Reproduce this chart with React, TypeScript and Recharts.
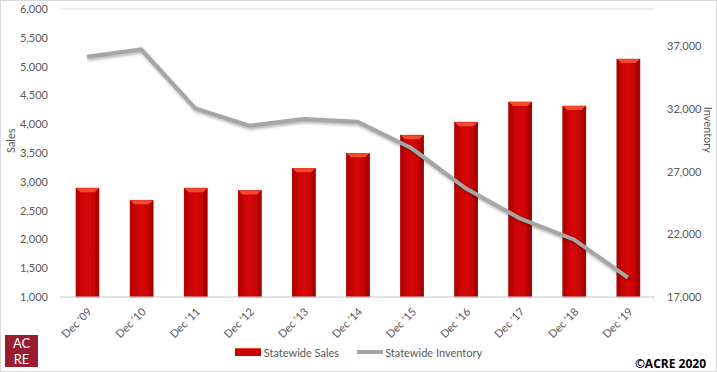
import React from "react";
import { ComposedChart, Bar, Line, XAxis, YAxis, CartesianGrid, Legend } from "recharts";

const categories = ["Dec '09", "Dec '10", "Dec '11", "Dec '12", "Dec '13", "Dec '14", "Dec '15", "Dec '16", "Dec '17", "Dec '18", "Dec '19"];
const sales = [2890, 2680, 2890, 2850, 3235, 3495, 3810, 4035, 4385, 4315, 5130];
const inventory = [36190, 36780, 32070, 30680, 31215, 31000, 28875, 25680, 23280, 21600, 18540];
const salesTicks = [1000, 1500, 2000, 2500, 3000, 3500, 4000, 4500, 5000, 5500, 6000];
const inventoryTicks = [17000, 22000, 27000, 32000, 37000];

const chartData = categories.map((name, i) => ({
  name,
  sales: sales[i],
  inventory: inventory[i],
}));

const FONT = "Lato, 'Open Sans', sans-serif";
const TICK = { fill: "#595959", fontSize: 11, fontFamily: FONT };

// bevelled red column like the Excel original
const BevelBar = (props: any) => {
  const { x, y, width, height } = props;
  if (!height || height <= 0) return null;
  const b = 4;
  return (
    <g>
      <rect x={x} y={y} width={width} height={height} fill="url(#barFace)" stroke="#9a0000" strokeWidth={0.6} />
      <polygon points={`${x},${y} ${x + width},${y} ${x + width - b},${y + b} ${x + b},${y + b}`} fill="#f24a2a" />
      <polygon points={`${x},${y} ${x + b},${y + b} ${x + b},${y + height} ${x},${y + height}`} fill="#b80000" />
      <polygon points={`${x + width},${y} ${x + width - b},${y + b} ${x + width - b},${y + height} ${x + width},${y + height}`} fill="#a80000" />
    </g>
  );
};

const renderLegend = () => (
  <div style={{ display: "flex", justifyContent: "center", alignItems: "center", height: 20, fontFamily: FONT, fontSize: 11, color: "#595959" }}>
    <span style={{ display: "inline-block", width: 26, height: 7, background: "#cc0000", borderTop: "1px solid #f24a2a", marginRight: 3 }} />
    <span style={{ marginRight: 18 }}>Statewide Sales</span>
    <span style={{ display: "inline-block", width: 26, height: 4, background: "#a6a6a6", marginRight: 2 }} />
    <span>Statewide Inventory</span>
  </div>
);

const App: React.FC = () => {
  return (
    <div style={{ position: "absolute", left: 0, top: 0, width: 717, height: 372, background: "#fff", boxSizing: "border-box", border: "1px solid #d9d9d9" }}>
      <div style={{ position: "absolute", left: -1, top: -1 }}>
        <ComposedChart width={717} height={372} data={chartData} margin={{ top: 9, right: 0, left: 0, bottom: 10 }}>
          <defs>
            <linearGradient id="barFace" x1="0" y1="0" x2="1" y2="0">
              <stop offset="0%" stopColor="#c00000" />
              <stop offset="50%" stopColor="#d40808" />
              <stop offset="100%" stopColor="#c00000" />
            </linearGradient>
          </defs>
          <CartesianGrid vertical={false} stroke="#d9d9d9" />
          <XAxis
            dataKey="name"
            interval={0}
            angle={-45}
            textAnchor="end"
            height={45}
            tickLine={false}
            axisLine={{ stroke: "#d9d9d9" }}
            tick={TICK}
            tickMargin={4}
          />
          <YAxis
            yAxisId="left"
            domain={[1000, 6000]}
            ticks={salesTicks}
            width={60}
            tickLine={false}
            axisLine={false}
            tick={TICK}
            tickMargin={6}
            tickFormatter={(v: number) => v.toLocaleString("en-US")}
            label={{ value: "Sales", angle: -90, position: "insideLeft", offset: 11, fill: "#595959", fontSize: 11, fontFamily: FONT }}
          />
          <YAxis
            yAxisId="right"
            orientation="right"
            domain={[17000, 40000]}
            ticks={inventoryTicks}
            width={62}
            tickLine={false}
            axisLine={false}
            tick={TICK}
            tickMargin={6}
            tickFormatter={(v: number) => v.toLocaleString("en-US")}
            label={{ value: "Inventory", angle: 90, position: "insideRight", offset: 9, fill: "#595959", fontSize: 11, fontFamily: FONT }}
          />
          <Legend verticalAlign="bottom" content={renderLegend} />
          <Bar yAxisId="left" dataKey="sales" name="Statewide Sales" barSize={23} shape={BevelBar} isAnimationActive={false} />
          <Line
            yAxisId="right"
            dataKey="inventory"
            name="Statewide Inventory"
            type="linear"
            stroke="#a6a6a6"
            strokeWidth={4}
            dot={false}
            activeDot={false}
            style={{ filter: "drop-shadow(1px 2px 1.5px rgba(0,0,0,0.3))" }}
            isAnimationActive={false}
          />
        </ComposedChart>
      </div>
      <div style={{ position: "absolute", left: 4, top: 334, width: 33, height: 32, background: "#9b1c31", color: "#fff", fontFamily: "Lato, sans-serif", fontSize: 13, lineHeight: "16px", textAlign: "center", boxSizing: "border-box" }}>
        <div>AC</div>
        <div>RE</div>
      </div>
      <div style={{ position: "absolute", right: 10, top: 354, fontFamily: "'Open Sans', sans-serif", fontWeight: 700, fontSize: 12, color: "#000" }}>
        ©ACRE 2020
      </div>
    </div>
  );
};

export default App;
